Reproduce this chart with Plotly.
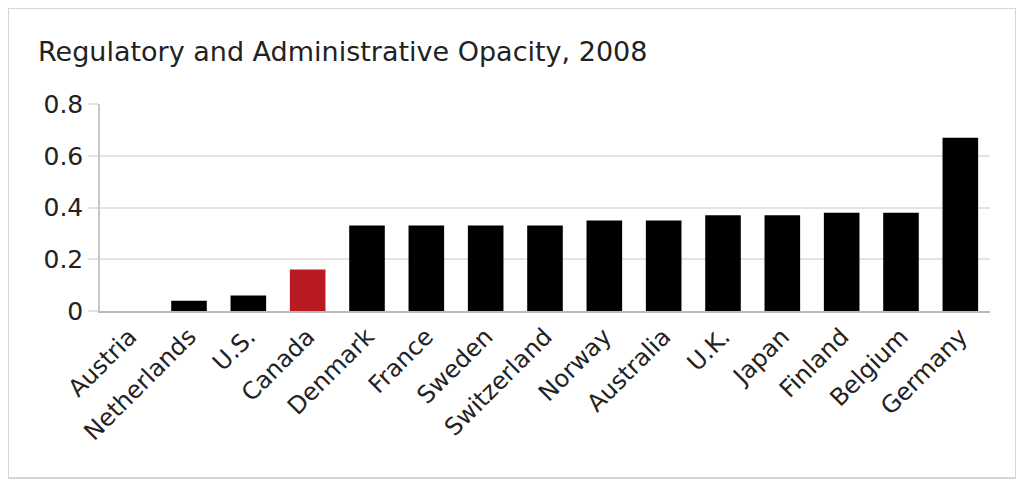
import plotly.graph_objects as go

countries = ["Austria", "Netherlands", "U.S.", "Canada", "Denmark", "France", "Sweden",
             "Switzerland", "Norway", "Australia", "U.K.", "Japan", "Finland", "Belgium", "Germany"]
values = [0.0, 0.04, 0.06, 0.16, 0.33, 0.33, 0.33, 0.33, 0.35, 0.35, 0.37, 0.37, 0.38, 0.38, 0.67]
highlight = "Canada"
y_ticks = [0, 0.2, 0.4, 0.6, 0.8]
y_tick_labels = ["0", "0.2", "0.4", "0.6", "0.8"]
title_text = "Regulatory and Administrative Opacity, 2008"

colors = ["#B81C22" if c == highlight else "#000000" for c in countries]

fig = go.Figure(go.Bar(x=countries, y=values, marker=dict(color=colors, line=dict(width=0)), width=0.6))

font = "DejaVu Sans, Verdana, sans-serif"
# page body has an 8px margin, so work in coordinates shifted by 8px
OFF = 8
W, H = 1024 - OFF, 486 - OFF
L = 100 - OFF
T = 104 - OFF
R = W - (990 - OFF)
B = H - (311 - OFF)
pw, ph = W - L - R, H - T - B

fig.update_layout(
    width=W, height=H,
    margin=dict(l=L, r=R, t=T, b=B, autoexpand=False),
    paper_bgcolor="white", plot_bgcolor="white",
    font=dict(family=font, size=24, color="#222222"),
    showlegend=False,
    title=dict(text=title_text, xref="container", yref="container", x=(38 - OFF) / W, xanchor="left",
               y=1 - (52 - OFF) / H, yanchor="middle", font=dict(size=27, color="#222222", family=font)),
    xaxis=dict(tickangle=-45, showgrid=False, showline=True, linecolor="#bbbbbb", linewidth=2,
               ticks="", tickfont=dict(size=24)),
    yaxis=dict(range=[0, 0.8], tickvals=y_ticks, ticktext=y_tick_labels, showgrid=True,
               gridcolor="#e3e3e3", gridwidth=1.5, showline=True, linecolor="#c8c8c8", linewidth=1.5,
               ticks="outside", ticklen=10, tickcolor="#e3e3e3", tickwidth=1.5, zeroline=False,
               tickfont=dict(size=25)),
    shapes=[dict(type="rect", xref="paper", yref="paper",
                 x0=(8 - 100) / pw, x1=(1016 - 100) / pw,
                 y0=(311 - 478) / ph, y1=(311 - 8) / ph,
                 line=dict(color="#d6d6d6", width=2), fillcolor="rgba(0,0,0,0)", layer="below")],
)

fig.write_html("out.html")
